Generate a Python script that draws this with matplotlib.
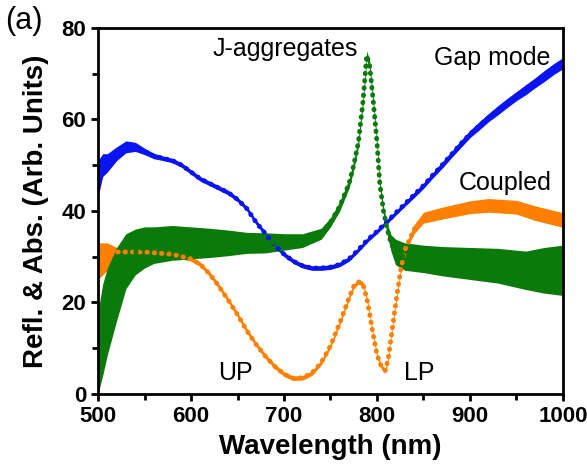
import numpy as np
import matplotlib.pyplot as plt

plt.rcParams['font.family'] = ['Liberation Sans', 'DejaVu Sans']

# values
gap_wl = [500, 505, 510, 520, 530, 540, 550, 560, 570, 580, 590, 600, 610, 620,
          630, 640, 650, 660, 670, 680, 690, 700, 710, 720, 730, 740, 750, 760,
          770, 780, 790, 800, 810, 820, 830, 840, 850, 860, 870, 880, 890, 900,
          910, 920, 930, 940, 950, 960, 970, 980, 990, 1000]
gap_val = [47, 50, 50.5, 52.5, 54, 54, 53, 52, 51.5, 51, 50, 48.5, 47, 46,
           45, 44, 42.5, 40.5, 37.5, 35, 32.5, 30.5, 29, 28, 27.5, 27.5, 27.7, 28.3,
           29.5, 31.5, 33.7, 35.5, 37.5, 39.5, 41.5, 43.5, 45.5, 47.8, 50, 52.3, 54.6, 56.8,
           58.6, 60.4, 62, 63.6, 65.1, 66.5, 68, 69.5, 71, 72.3]
gap_spread = [4, 2.5, 2, 1.5, 1.3, 1, 0.7, 0.6, 0.5, 0.5, 0.5, 0.5, 0.5, 0.5,
              0.5, 0.5, 0.5, 0.5, 0.5, 0.5, 0.5, 0.5, 0.5, 0.5, 0.5, 0.5, 0.5, 0.5,
              0.5, 0.5, 0.5, 0.5, 0.5, 0.5, 0.5, 0.6, 0.6, 0.6, 0.7, 0.7, 0.8, 0.8,
              0.9, 0.9, 1, 1, 1, 1.1, 1.1, 1.2, 1.2, 1.2]

jagg_wl = [500, 505, 510, 520, 530, 540, 550, 560, 580, 600, 620, 640, 660, 680,
           700, 720, 740, 750, 760, 770, 775, 780, 785, 789, 792, 796, 800, 803,
           807, 811, 815, 820, 830, 850, 870, 900, 930, 960, 980, 1000]
jagg_val = [9, 14, 18, 24, 29, 31, 32, 32.5, 33, 33, 33, 33, 33, 33,
            33.2, 33.5, 35, 37.5, 41, 46, 50, 55, 64, 74, 72, 64, 55, 46,
            40, 36, 33, 31, 30, 29.5, 29, 28.5, 28, 27, 27, 27]
jagg_spread = [9, 10, 9.5, 8, 6, 5, 4.5, 4, 3.8, 3.5, 3.2, 2.8, 2.3, 2.2,
               1.8, 1.5, 1.2, 1, 1, 1, 1, 1, 1, 1, 1, 1, 1, 1,
               1, 1.2, 1.8, 2.8, 3, 3, 3.2, 3.5, 3.8, 4.2, 5, 5.5]

coup_wl = [500, 505, 510, 515, 520, 530, 550, 580, 600, 610, 620, 630, 640, 650,
           660, 670, 680, 690, 700, 710, 720, 730, 740, 750, 760, 770, 775, 780,
           785, 790, 795, 800, 805, 809, 812, 815, 820, 825, 830, 840, 850, 870,
           900, 920, 950, 970, 1000]
coup_val = [29, 29.5, 30, 30.5, 31, 31, 31, 30.5, 29.5, 28.3, 26.2, 23.5, 20.5, 17.3,
            13.8, 10.8, 8.2, 6, 4.3, 3.4, 3.5, 4.5, 6.8, 10.5, 15.5, 21, 23.5, 24.5,
            24, 20, 14, 8.5, 5.8, 5.1, 7.5, 12, 19.5, 26.5, 31.5, 36, 38.5, 39.5,
            40.8, 41.2, 40.8, 39.5, 38]
coup_spread = [4, 3.5, 3, 2, 1, 0.7, 0.6, 0.6, 0.5, 0.5, 0.5, 0.5, 0.5, 0.5,
               0.5, 0.5, 0.5, 0.5, 0.5, 0.5, 0.5, 0.5, 0.5, 0.5, 0.5, 0.5, 0.5, 0.5,
               0.5, 0.5, 0.5, 0.5, 0.5, 0.5, 0.5, 0.5, 0.5, 0.5, 0.7, 1, 1.2, 1.3,
               1.4, 1.5, 1.5, 1.6, 1.6]

series = [
    (gap_wl, gap_val, gap_spread, '#0a14f0'),
    (coup_wl, coup_val, coup_spread, '#ff8000'),
    (jagg_wl, jagg_val, jagg_spread, '#0a7a0a'),
]

fig = plt.figure(figsize=(5.87, 4.66), dpi=100)
ax = fig.add_axes([0.167, 0.155, 0.792, 0.785])

for wl, val, spread, col in series:
    wl = np.array(wl)
    val = np.array(val)
    spread = np.array(spread)
    ax.fill_between(wl, val - spread, val + spread, color=col, lw=0)
    ax.plot(wl, val, color=col, lw=3.5, linestyle=(0, (0.1, 1.4)),
            dash_capstyle='round')

ax.set_xlim(500, 1000)
ax.set_ylim(0, 80)
ax.set_xticks([500, 600, 700, 800, 900, 1000])
ax.set_xticks([550, 650, 750, 850, 950], minor=True)
ax.set_yticks([0, 20, 40, 60, 80])
ax.set_yticks([10, 30, 50, 70], minor=True)
ax.tick_params(which='major', direction='out', length=5, width=2,
               labelsize=16, top=False, right=False)
ax.tick_params(which='minor', direction='out', length=4, width=2,
               top=False, right=False)
for lab in ax.get_xticklabels() + ax.get_yticklabels():
    lab.set_fontweight('bold')
for sp in ax.spines.values():
    sp.set_linewidth(2)

ax.set_xlabel('Wavelength (nm)', fontsize=20, fontweight='bold', labelpad=5)
ax.set_ylabel('Refl. & Abs. (Arb. Units)', fontsize=20, fontweight='bold',
              labelpad=9)

ax.text(780, 75.5, 'J-aggregates', fontsize=18, ha='right', va='center')
ax.text(986, 73.5, 'Gap mode', fontsize=18, ha='right', va='center')
ax.text(988, 46, 'Coupled', fontsize=18, ha='right', va='center')
ax.text(648, 4.5, 'UP', fontsize=18, ha='center', va='center')
ax.text(845, 4.5, 'LP', fontsize=18, ha='center', va='center')
fig.text(0.008, 0.955, '(a)', fontsize=22, ha='left', va='center')

fig.savefig('out.png', dpi=100)
